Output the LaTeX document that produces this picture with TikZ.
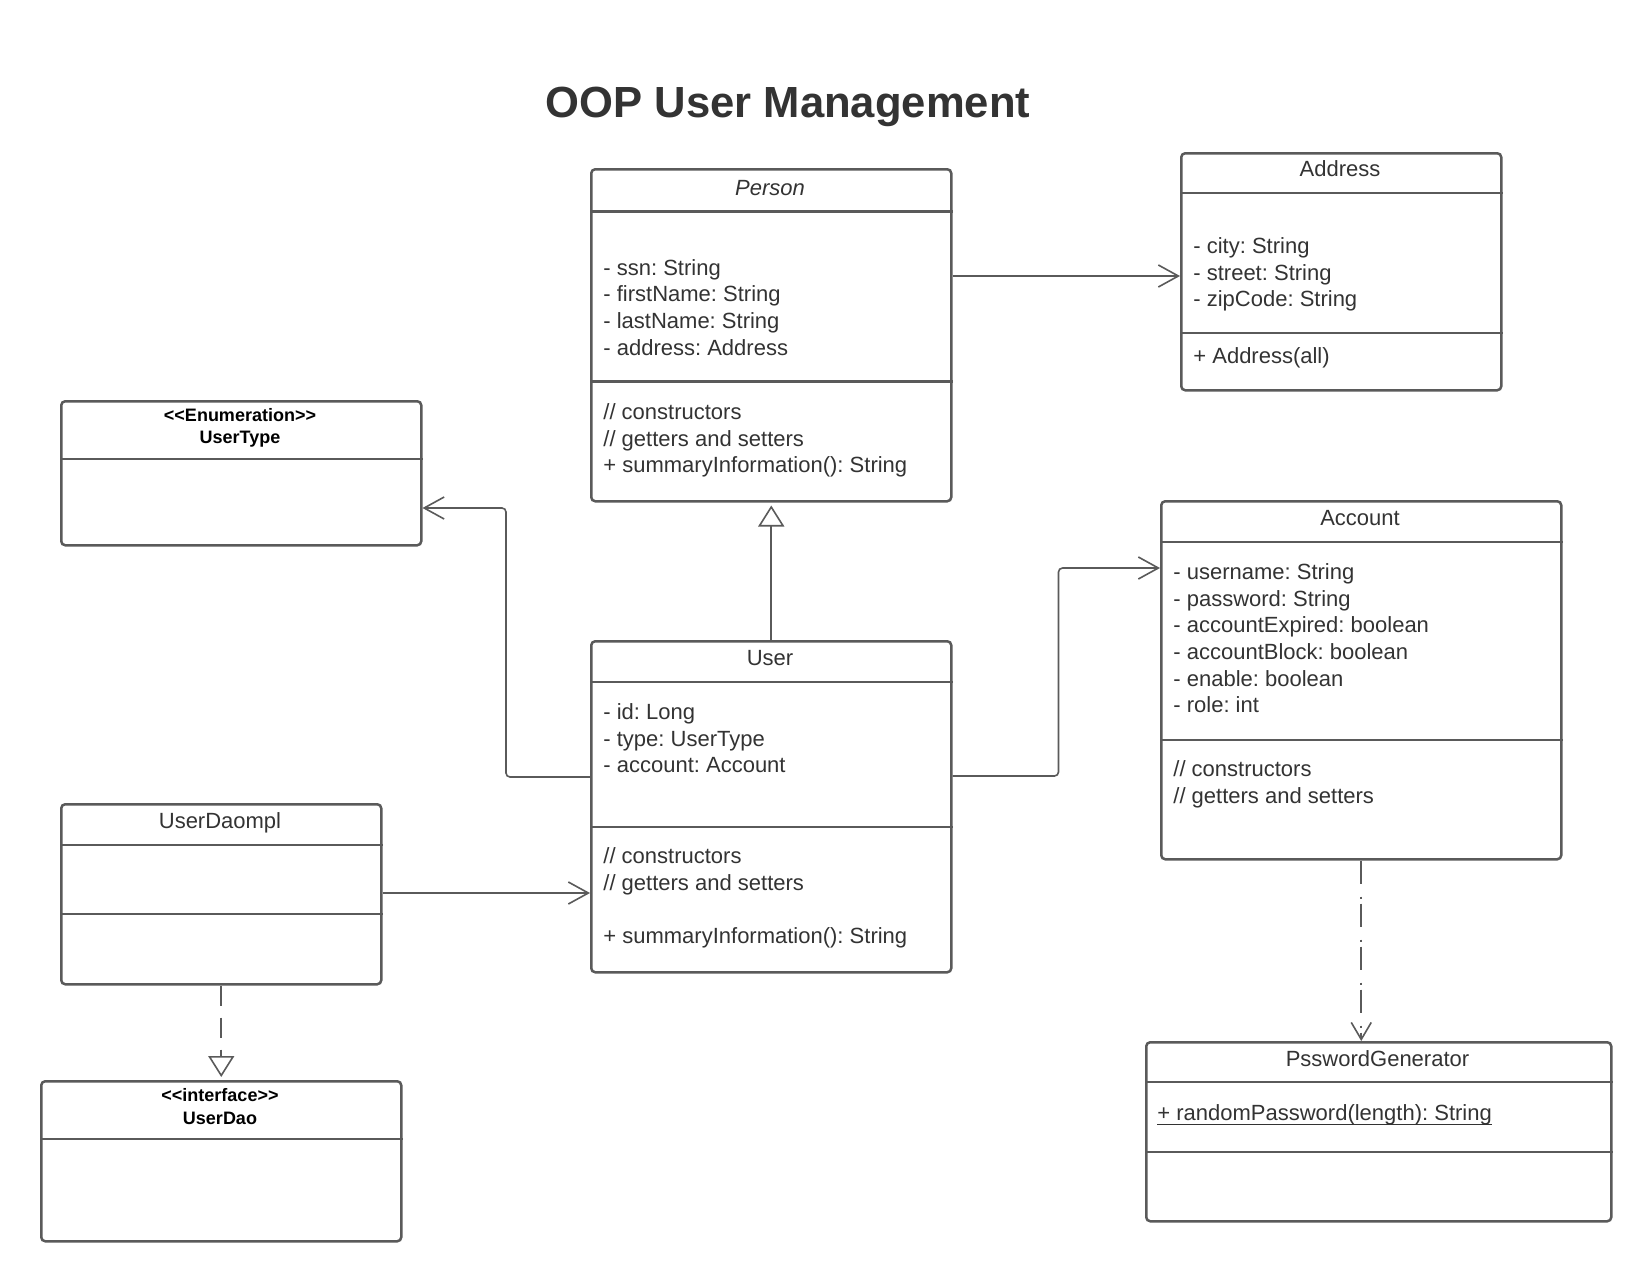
\documentclass[tikz,border=0pt]{standalone}
\usepackage{fontspec}
\setmainfont{Liberation Sans}
\usetikzlibrary{arrows.meta}
\definecolor{linegray}{HTML}{5A5A5A}
\definecolor{textgray}{HTML}{333333}
\tikzset{
    classbox/.style={draw=linegray, line width=1.25pt, rounded corners=2pt, fill=white, inner sep=0pt, anchor=north west},
    divider/.style={draw=linegray, line width=1.25pt},
    classname/.style={anchor=base, inner sep=0pt, text=textgray, font=\fontsize{11}{13.35}\selectfont},
    member/.style={anchor=base west, inner sep=0pt, text=textgray, font=\fontsize{11}{13.35}\selectfont},
    stereo/.style={anchor=base, inner sep=0pt, text=black, font=\fontsize{9}{11}\selectfont\bfseries},
    titletext/.style={anchor=base, inner sep=0pt, text=textgray, font=\fontsize{21.8}{26}\selectfont\bfseries},
    assoc/.style={draw=linegray, line width=0.8pt, rounded corners=2pt, -{Straight Barb[length=10pt,width=11pt]}},
    inherit/.style={draw=linegray, line width=0.8pt, shorten >=1.5pt, -{Triangle[open,fill=white,length=10.5pt,width=13pt]}},
    realize/.style={inherit, dash pattern=on 10pt off 6pt},
    depend/.style={draw=linegray, line width=0.8pt, dash pattern=on 11.5pt off 6.5pt on 1pt off 2.5pt, -{Straight Barb[length=8.5pt,width=10pt]}}
}
\newcommand\guil[1]{<\kern0pt<#1>\kern0pt>}
\frenchspacing
\begin{document}
\begin{tikzpicture}[x=0.5pt, y=-0.5pt]
    \fill[white] (0,0) rectangle (1649,1280);
    \useasboundingbox (0,0) rectangle (1649,1280);
    \node[titletext] (title) at (788,117) {OOP User Management};
    % class boxes
    \node[classbox, minimum width=180pt, minimum height=166pt] (person) at (590,168) {};
    \node[classbox, minimum width=160pt, minimum height=118.5pt] (address) at (1180,152) {};
    \node[classbox, minimum width=180pt, minimum height=72pt] (usertype) at (60,400) {};
    \node[classbox, minimum width=200pt, minimum height=179pt] (account) at (1160,500) {};
    \node[classbox, minimum width=180pt, minimum height=165.5pt] (user) at (590,640) {};
    \node[classbox, minimum width=160pt, minimum height=90pt] (userdaompl) at (60,803) {};
    \node[classbox, minimum width=180pt, minimum height=80pt] (userdao) at (40,1080) {};
    \node[classbox, minimum width=232.5pt, minimum height=89.5pt] (pwgen) at (1145,1041) {};
    \foreach \n/\d in {person/21.85pt, person/106.85pt, address/20.5pt, address/90.5pt,
        usertype/29.5pt, account/21pt, account/120pt, user/21pt, user/93.5pt,
        userdaompl/21pt, userdaompl/55.5pt, userdao/29.5pt, pwgen/20.5pt, pwgen/55.5pt}
        \draw[divider] ([yshift=-\d]\n.north west) -- ([yshift=-\d]\n.north east);
    % names
    \node[classname] (person-name) at (770,195) {\itshape Person};
    \node[classname] (address-name) at (1340,176.7) {Address};
    \node[classname] (account-name) at (1360,525.7) {Account};
    \node[classname] (user-name) at (770,665.7) {User};
    \node[classname] (userdaompl-name) at (220,828.3) {UserDaompl};
    \node[classname] (pwgen-name) at (1377.5,1066) {PsswordGenerator};
    \node[stereo] (usertype-st) at (240,421.7) {\guil{Enumeration}};
    \node[stereo] (usertype-name) at (240,443.3) {UserType};
    \node[stereo] (userdao-st) at (220,1101.7) {\guil{interface}};
    \node[stereo] (userdao-name) at (220,1124) {UserDao};
    % members
    \foreach \t [count=\i from 0] in {- ssn: String, - firstName: String, - lastName: String, - address: Address}
        \node[member] (person-a\i) at (603,275+26.7*\i) {\t};
    \foreach \t [count=\i from 0] in {// constructors, // getters and setters, + summaryInformation(): String}
        \node[member] (person-m\i) at (603,419.3+26.7*\i) {\t};
    \foreach \t [count=\i from 0] in {- city: String, - street: String, - zipCode: String}
        \node[member] (address-a\i) at (1193,253.3+26.7*\i) {\t};
    \node[member] (address-m0) at (1193,363.3) {+ Address(all)};
    \foreach \t [count=\i from 0] in {- username: String, - password: String, - accountExpired: boolean,
        - accountBlock: boolean, - enable: boolean, - role: int}
        \node[member] (account-a\i) at (1173,579.3+26.7*\i) {\t};
    \foreach \t [count=\i from 0] in {// constructors, // getters and setters}
        \node[member] (account-m\i) at (1173,776.7+26.7*\i) {\t};
    \foreach \t [count=\i from 0] in {- id: Long, - type: UserType, - account: Account}
        \node[member] (user-a\i) at (603,719.3+26.7*\i) {\t};
    \foreach \t [count=\i from 0] in {// constructors, // getters and setters}
        \node[member] (user-m\i) at (603,863.3+26.7*\i) {\t};
    \node[member] (user-m2) at (603,943.3) {+ summaryInformation(): String};
    \node[member] (pwgen-m0) at (1157,1120.7) {+ randomPassword(length): String};
    \draw[textgray, line width=0.6pt] ([yshift=-1.7pt]pwgen-m0.base west) -- ([yshift=-1.7pt]pwgen-m0.base east);
    % connectors
    \coordinate (pa) at ([yshift=-54pt]person.north east);
    \draw[assoc] (pa) -- (pa -| address.west);
    \coordinate (uw) at ([yshift=-68.5pt]user.north west);
    \coordinate (ut) at ([yshift=-54pt]usertype.north east);
    \draw[assoc] (uw) -- ++(-84,0) |- (ut);
    \coordinate (ue) at ([yshift=-68pt]user.north east);
    \coordinate (ac) at ([yshift=-34pt]account.north west);
    \draw[assoc] (ue) -- ++(106,0) |- (ac);
    \coordinate (di) at ([yshift=-45pt]userdaompl.north east);
    \draw[assoc] (di) -- (di -| user.west);
    \draw[inherit] (user.north) -- (person.south);
    \draw[realize] (userdaompl.south) -- (userdao.north);
    \draw[depend] (account.south) -- (account.south |- pwgen.north);
\end{tikzpicture}
\end{document}
